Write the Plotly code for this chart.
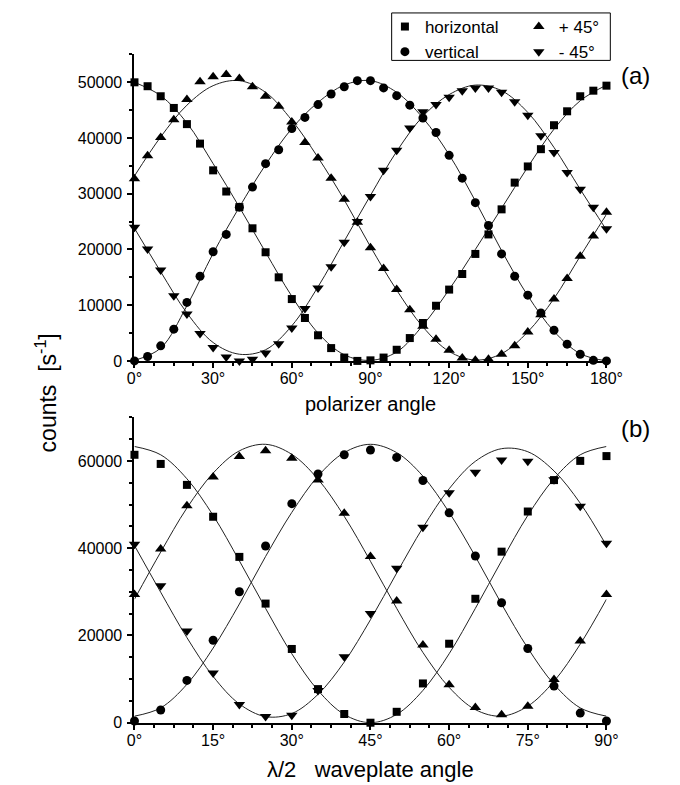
import plotly.graph_objects as go

# ---------------- data: panel (a) polarizer angle ----------------
ang_a = list(range(0, 181, 5))
hor_a = [50000, 49300, 47500, 45400, 42500, 39000, 34200, 30400, 27600, 23800,
         19500, 15000, 11100, 7700, 4600, 2300, 600, 0, 100, 600,
         2000, 4100, 6800, 9900, 12800, 15600, 19200, 22700, 27200, 32000,
         34900, 38000, 42300, 44800, 47500, 48500, 49400]
ver_a = [0, 800, 2700, 5700, 10500, 15200, 19600, 22700, 27600, 31200,
         35400, 37900, 41700, 43700, 46000, 47900, 49200, 50300, 50300, 49000,
         47600, 45900, 43600, 41000, 36900, 32800, 28400, 24300, 19200, 15200,
         11800, 8600, 5500, 3000, 1200, 100, 0]
p45_a = [32700, 36800, 40100, 43300, 46900, 50100, 51000, 51400, 50700, 49200,
         47500, 45700, 42900, 39200, 36400, 32800, 29000, 24900, 20300, 16600,
         12800, 9200, 6200, 3900, 1900, 500, 100, 300, 1200, 2700,
         5200, 8300, 11100, 14800, 18800, 22400, 26700]
m45_a = [24000, 20100, 16300, 11700, 8400, 4900, 2400, 700, 0, 300,
         1400, 3100, 5900, 9400, 13100, 16900, 21300, 25000, 29500, 34200,
         37800, 41800, 44700, 46000, 47300, 48500, 49000, 49000, 48200, 46500,
         44100, 40400, 37400, 33800, 30800, 27600, 23700]

# fitted curves (a), read at 10 degree steps
fit_ang_a = list(range(0, 181, 10))
hor_fit_a = [50000, 47600, 42700, 35400, 27600, 19500, 11600, 5000, 1100, 100,
             1600, 6400, 12800, 20000, 27400, 34800, 41600, 46700, 49500]
ver_fit_a = [100, 2300, 9900, 19300, 27600, 35200, 41700, 46400, 49500, 50300,
             48200, 43600, 37000, 28700, 19800, 11700, 5300, 1300, 0]
p45_fit_a = [33200, 40200, 45900, 49400, 50300, 48200, 43200, 36500, 28900, 20500,
             12700, 6100, 1700, 150, 1300, 5200, 11200, 18800, 26300]
m45_fit_a = [23800, 16000, 8600, 3300, 1200, 2000, 6300, 13300, 21500, 29700,
             37600, 43900, 47800, 49500, 48500, 44600, 38300, 30800, 23500]

# ---------------- data: panel (b) lambda/2 waveplate angle ----------------
ang_b = list(range(0, 91, 5))
hor_b = [61400, 59300, 54500, 47200, 38000, 27300, 16900, 7700, 2000, 0,
         2500, 9000, 18100, 28400, 39200, 48400, 55600, 60000, 61100]
ver_b = [400, 2900, 9700, 18900, 30000, 40500, 50200, 57000, 61400, 62500,
         60800, 55500, 48100, 38200, 27500, 17000, 8400, 2200, 400]
p45_b = [29400, 39800, 49700, 56300, 61000, 62300, 60600, 55600, 48000, 38100,
         27900, 17800, 8700, 3500, 1800, 3800, 9900, 18700, 29400]
m45_b = [40900, 31400, 21000, 11400, 4200, 1400, 1700, 7400, 15100, 25000,
         35400, 44800, 52700, 57400, 60200, 59900, 55700, 49600, 41100]

fit_ang_b = list(range(0, 91, 5))
hor_fit_b = [63300, 61400, 55900, 47500, 37100, 26200, 15800, 7400, 1900, 0,
             1900, 7400, 15800, 26200, 37100, 47500, 55900, 61400, 63300]
ver_fit_b = [1500, 3400, 8800, 17100, 27200, 38100, 48200, 56500, 61900, 63800,
             61900, 56500, 48200, 38100, 27200, 17100, 8800, 3400, 1500]
p45_fit_b = [28300, 39100, 49200, 57200, 62300, 63800, 61500, 55800, 47300, 37000,
             26200, 16100, 8100, 3000, 1500, 3800, 9500, 18000, 28300]
m45_fit_b = [40600, 29900, 19500, 10600, 4300, 1400, 2100, 6500, 13900, 23600,
             34300, 44700, 53600, 59900, 62800, 62100, 57700, 50300, 40600]

series_names = ["horizontal", "vertical", "+ 45°", "- 45°"]
symbols = ["square", "circle", "triangle-up", "triangle-down"]
sizes = [8, 9, 10, 10]
legends = ["legend", "legend", "legend2", "legend2"]

FONT = "Liberation Sans, Arial, sans-serif"
W, H = 680, 785

fig = go.Figure()

def add_panel(angles, ys, fit_x, fits, xa, ya, show):
    for f in fits:
        fig.add_trace(go.Scatter(
            x=fit_x, y=f, mode="lines", line=dict(color="#222", width=1, shape="spline"),
            xaxis=xa, yaxis=ya, showlegend=False, hoverinfo="skip"))
    for i, y in enumerate(ys):
        fig.add_trace(go.Scatter(
            x=angles, y=y, mode="markers", name=series_names[i],
            marker=dict(symbol=symbols[i], size=sizes[i], color="black"),
            xaxis=xa, yaxis=ya, showlegend=show, legend=legends[i], cliponaxis=False))

add_panel(ang_a, [hor_a, ver_a, p45_a, m45_a], fit_ang_a,
          [hor_fit_a, ver_fit_a, p45_fit_a, m45_fit_a], "x", "y", True)
add_panel(ang_b, [hor_b, ver_b, p45_b, m45_b], fit_ang_b,
          [hor_fit_b, ver_fit_b, p45_fit_b, m45_fit_b], "x2", "y2", False)

xl, xr = 123 / W, 613 / W
dom_a = [1 - 357 / H, 1 - 47 / H]
dom_b = [1 - 723 / H, 1 - 414 / H]

axis_common = dict(showline=True, linecolor="black", linewidth=2, ticks="outside",
                   ticklen=5, tickwidth=1.5, tickcolor="black", showgrid=False,
                   zeroline=False, mirror=False,
                   tickfont=dict(family=FONT, size=16, color="black"))

fig.update_layout(
    width=W, height=H, margin=dict(l=0, r=0, t=0, b=0),
    paper_bgcolor="white", plot_bgcolor="white",
    xaxis=dict(domain=[xl, xr], range=[0, 180], tickmode="linear", tick0=0, dtick=30,
               ticksuffix="°", anchor="y", ticklabelstandoff=-3,
               minor=dict(dtick=7.5, ticklen=3, ticks="outside", tickcolor="black"),
               **axis_common),
    yaxis=dict(domain=dom_a, range=[0, 55000], tickmode="linear", tick0=0, dtick=10000,
               tickformat="d", anchor="x", ticklabelstandoff=2,
               minor=dict(dtick=5000, ticklen=3, ticks="outside", tickcolor="black"),
               **axis_common),
    xaxis2=dict(domain=[xl, xr], range=[0, 90], tickmode="linear", tick0=0, dtick=15,
                ticksuffix="°", anchor="y2", ticklabelstandoff=-3,
                minor=dict(dtick=3.75, ticklen=3, ticks="outside", tickcolor="black"),
                **axis_common),
    yaxis2=dict(domain=dom_b, range=[0, 70000], tickmode="linear", tick0=0, dtick=20000,
                tickformat="d", anchor="x2", ticklabelstandoff=2,
                minor=dict(dtick=5000, ticklen=3, ticks="outside", tickcolor="black"),
                **axis_common),
    legend=dict(x=383 / W, xanchor="left", y=1 - 1 / H, yanchor="top",
                font=dict(family=FONT, size=17, color="black"),
                bgcolor="rgba(0,0,0,0)", borderwidth=0, tracegroupgap=0,
                itemwidth=30),
    legend2=dict(x=522 / W, xanchor="left", y=1 - 1 / H, yanchor="top",
                 font=dict(family=FONT, size=17, color="black"),
                 bgcolor="rgba(0,0,0,0)", borderwidth=0, tracegroupgap=0,
                 itemwidth=30),
    shapes=[dict(type="rect", xref="paper", yref="paper",
                 x0=390 / W, x1=617 / W, y0=1 - 53 / H, y1=1 - 5 / H,
                 line=dict(color="black", width=1), fillcolor="rgba(0,0,0,0)")],
)

ann = [
    ("polarizer angle", 368, 401, 20, 0),
    ("λ/2   waveplate angle", 368, 770, 22, 0),
    ("counts  [s<sup>-1</sup>]", 31, 389, 23, -90),
    ("(a)", 643, 68, 24, 0),
    ("(b)", 643, 425, 24, 0),
]
for text, px, py, size, angle in ann:
    fig.add_annotation(text=text, x=px / W, y=1 - py / H, xref="paper", yref="paper",
                       xanchor="center", yanchor="middle", showarrow=False,
                       textangle=angle, font=dict(family=FONT, size=size, color="black"))

fig.write_html("out.html")
